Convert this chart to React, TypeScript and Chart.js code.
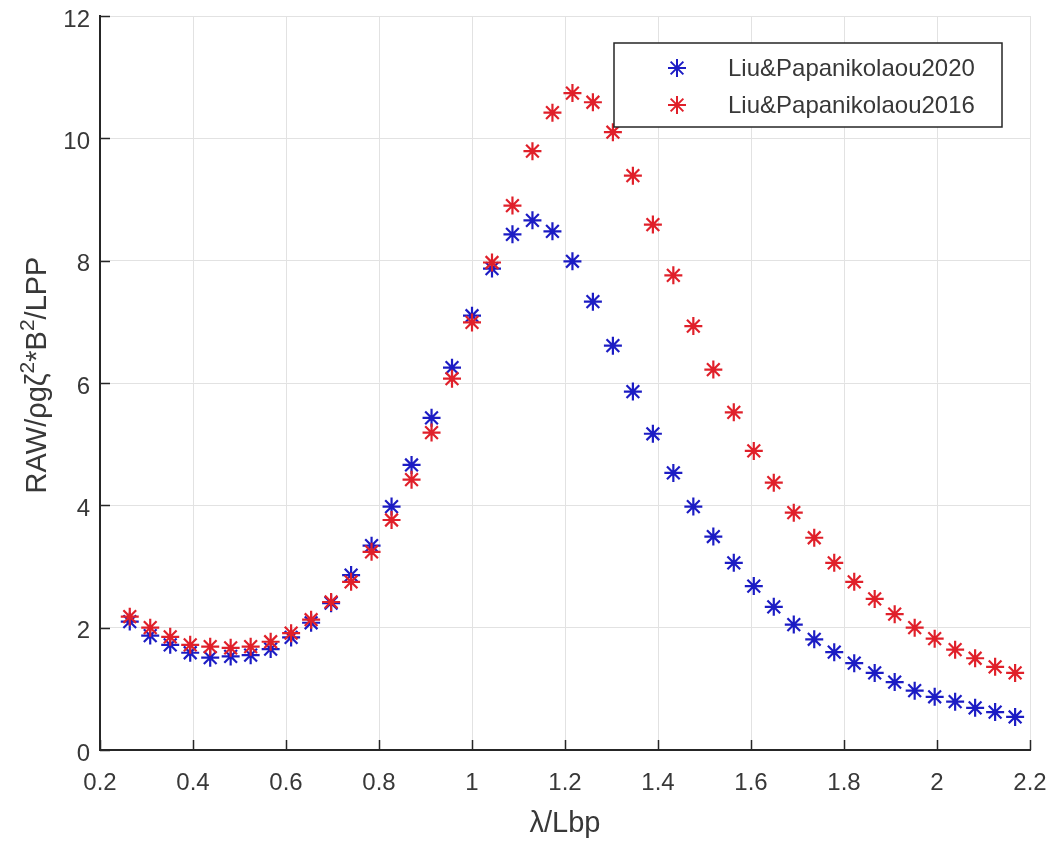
import React, { useEffect, useRef } from 'react';
import { Chart, registerables } from 'chart.js';

Chart.register(...registerables);

const lambdaValues = [
  0.264, 0.308, 0.351, 0.394, 0.437, 0.481, 0.524, 0.567, 0.611, 0.654,
  0.697, 0.74, 0.784, 0.827, 0.87, 0.913, 0.957, 1.0, 1.043, 1.087,
  1.13, 1.173, 1.216, 1.26, 1.303, 1.346, 1.389, 1.433, 1.476, 1.519,
  1.563, 1.606, 1.649, 1.692, 1.736, 1.779, 1.822, 1.866, 1.909, 1.952,
  1.995, 2.039, 2.082, 2.125, 2.168,
];

const raw2020 = [
  2.1, 1.87, 1.72, 1.59, 1.51, 1.53, 1.55, 1.65, 1.84, 2.08,
  2.4, 2.86, 3.34, 3.98, 4.66, 5.43, 6.25, 7.1, 7.87, 8.43,
  8.66, 8.48, 7.99, 7.33, 6.61, 5.86, 5.17, 4.53, 3.98, 3.49,
  3.06, 2.68, 2.34, 2.05, 1.81, 1.6, 1.42, 1.26, 1.11, 0.97,
  0.87, 0.79, 0.69, 0.62, 0.54,
];

const raw2016 = [
  2.18, 2.0, 1.85, 1.72, 1.69, 1.67, 1.69, 1.77, 1.91, 2.13,
  2.42, 2.75, 3.24, 3.76, 4.42, 5.19, 6.07, 6.99, 7.97, 8.9,
  9.79, 10.42, 10.74, 10.59, 10.1, 9.39, 8.59, 7.76, 6.93, 6.22,
  5.52, 4.89, 4.37, 3.88, 3.47, 3.06, 2.75, 2.47, 2.22, 2.0,
  1.82, 1.64, 1.5, 1.36, 1.26,
];

const xTickLabels = ['0.2', '0.4', '0.6', '0.8', '1', '1.2', '1.4', '1.6', '1.8', '2', '2.2'];
const yTickLabels = ['0', '2', '4', '6', '8', '10', '12'];
const seriesNames = ['Liu&Papanikolaou2020', 'Liu&Papanikolaou2016'];
const seriesColors = ['#1c1cc4', '#e0202a'];
const xTitle = 'λ/Lbp';
// y-axis title: RAW/ρgζ^2*B^2/LPP (text, isSuperscript)
const yTitleParts: [string, boolean][] = [
  ['RAW/ρgζ', false],
  ['2', true],
  ['*B', false],
  ['2', true],
  ['/LPP', false],
];

const FONT = '"Liberation Sans", Arial, Helvetica, sans-serif';
const AXIS_COLOR = '#262626';
const TEXT_COLOR = '#383838';
const TITLE_SIZE = 29;

function drawStar(ctx: CanvasRenderingContext2D, x: number, y: number, r: number) {
  const d = r * Math.SQRT1_2;
  ctx.beginPath();
  ctx.moveTo(x - r, y);
  ctx.lineTo(x + r, y);
  ctx.moveTo(x, y - r);
  ctx.lineTo(x, y + r);
  ctx.moveTo(x - d, y - d);
  ctx.lineTo(x + d, y + d);
  ctx.moveTo(x - d, y + d);
  ctx.lineTo(x + d, y - d);
  ctx.stroke();
}

const inwardTicks = {
  id: 'inwardTicks',
  afterDatasetsDraw(chart: any) {
    const { ctx, chartArea, scales } = chart;
    ctx.save();
    ctx.strokeStyle = AXIS_COLOR;
    ctx.lineWidth = 1.5;
    ctx.beginPath();
    scales.x.ticks.forEach((_t: any, i: number) => {
      const px = Math.round(scales.x.getPixelForTick(i)) + 0.5;
      ctx.moveTo(px, chartArea.bottom);
      ctx.lineTo(px, chartArea.bottom - 10);
    });
    scales.y.ticks.forEach((_t: any, i: number) => {
      const py = Math.round(scales.y.getPixelForTick(i)) + 0.5;
      ctx.moveTo(chartArea.left, py);
      ctx.lineTo(chartArea.left + 10, py);
    });
    ctx.stroke();
    ctx.restore();
  },
};

const yTitlePlugin = {
  id: 'yTitlePlugin',
  afterDraw(chart: any) {
    const { ctx, chartArea } = chart;
    const mainFont = `${TITLE_SIZE}px ${FONT}`;
    const supFont = `${Math.round(TITLE_SIZE * 0.72)}px ${FONT}`;
    ctx.save();
    let total = 0;
    const widths = yTitleParts.map(([t, sup]) => {
      ctx.font = sup ? supFont : mainFont;
      const w = ctx.measureText(t).width;
      total += w;
      return w;
    });
    const cx = 36;
    const cy = (chartArea.top + chartArea.bottom) / 2 - 8;
    ctx.translate(cx, cy);
    ctx.rotate(-Math.PI / 2);
    ctx.fillStyle = TEXT_COLOR;
    ctx.textAlign = 'left';
    ctx.textBaseline = 'alphabetic';
    const baseline = TITLE_SIZE * 0.36;
    let x = -total / 2;
    yTitleParts.forEach(([t, sup], i) => {
      ctx.font = sup ? supFont : mainFont;
      ctx.fillText(t, x, sup ? baseline - TITLE_SIZE * 0.42 : baseline);
      x += widths[i];
    });
    ctx.restore();
  },
};

const boxLegend = {
  id: 'boxLegend',
  afterDraw(chart: any) {
    const { ctx, chartArea } = chart;
    const w = 388;
    const h = 84;
    const x0 = chartArea.right - 28 - w;
    const y0 = chartArea.top + 27;
    ctx.save();
    ctx.fillStyle = '#ffffff';
    ctx.fillRect(x0, y0, w, h);
    ctx.strokeStyle = AXIS_COLOR;
    ctx.lineWidth = 1.5;
    ctx.strokeRect(x0, y0, w, h);
    ctx.font = `24px ${FONT}`;
    ctx.textBaseline = 'middle';
    ctx.textAlign = 'left';
    seriesNames.forEach((name, i) => {
      const cy = y0 + 25 + i * 37;
      ctx.strokeStyle = seriesColors[i];
      ctx.lineWidth = 2;
      drawStar(ctx, x0 + 63, cy, 9);
      ctx.fillStyle = TEXT_COLOR;
      ctx.fillText(name, x0 + 114, cy + 1);
    });
    ctx.restore();
  },
};

export default function App() {
  const canvasRef = useRef<HTMLCanvasElement | null>(null);

  useEffect(() => {
    const canvas = canvasRef.current;
    if (!canvas) return;
    const makeData = (vals: number[]) => lambdaValues.map((x, i) => ({ x, y: vals[i] }));
    const chart = new Chart(canvas, {
      type: 'scatter',
      data: {
        datasets: [
          {
            label: seriesNames[0],
            data: makeData(raw2020),
            pointStyle: 'star',
            radius: 9,
            hoverRadius: 9,
            borderWidth: 2.2,
            borderColor: seriesColors[0],
            backgroundColor: seriesColors[0],
            order: 1,
          },
          {
            label: seriesNames[1],
            data: makeData(raw2016),
            pointStyle: 'star',
            radius: 9,
            hoverRadius: 9,
            borderWidth: 2.2,
            borderColor: seriesColors[1],
            backgroundColor: seriesColors[1],
            order: 0,
          },
        ],
      },
      options: {
        responsive: false,
        animation: false,
        layout: { padding: { top: 16, right: 21, left: 0, bottom: 0 } },
        plugins: {
          legend: { display: false },
          tooltip: { enabled: false },
        },
        scales: {
          x: {
            type: 'linear',
            min: 0.2,
            max: 2.2,
            afterFit: (scale: any) => {
              scale.height = 92;
              scale.paddingLeft = 0;
              scale.paddingRight = 0;
            },
            ticks: {
              stepSize: 0.2,
              padding: 19,
              color: TEXT_COLOR,
              font: { family: FONT, size: 24 },
              maxRotation: 0,
              autoSkip: false,
              callback: (_v: any, i: number) => xTickLabels[i],
            },
            grid: { color: '#e2e2e2', lineWidth: 1, drawTicks: false },
            border: { color: AXIS_COLOR, width: 2 },
            title: {
              display: true,
              text: xTitle,
              color: TEXT_COLOR,
              font: { family: FONT, size: TITLE_SIZE },
              padding: { top: 0, bottom: 1 },
            },
          },
          y: {
            type: 'linear',
            min: 0,
            max: 12,
            afterFit: (scale: any) => {
              scale.width = 100;
              scale.paddingTop = 0;
              scale.paddingBottom = 0;
            },
            ticks: {
              stepSize: 2,
              padding: 10,
              labelOffset: 4,
              color: TEXT_COLOR,
              font: { family: FONT, size: 24 },
              callback: (_v: any, i: number) => yTickLabels[i],
            },
            grid: { color: '#e2e2e2', lineWidth: 1, drawTicks: false },
            border: { color: AXIS_COLOR, width: 2 },
            title: { display: false },
          },
        },
      },
      plugins: [inwardTicks, yTitlePlugin, boxLegend],
    });
    return () => chart.destroy();
  }, []);

  return (
    <div style={{ position: 'fixed', left: 0, top: 0, width: 1051, height: 842, background: '#fff' }}>
      <canvas ref={canvasRef} width={1051} height={842} />
    </div>
  );
}
